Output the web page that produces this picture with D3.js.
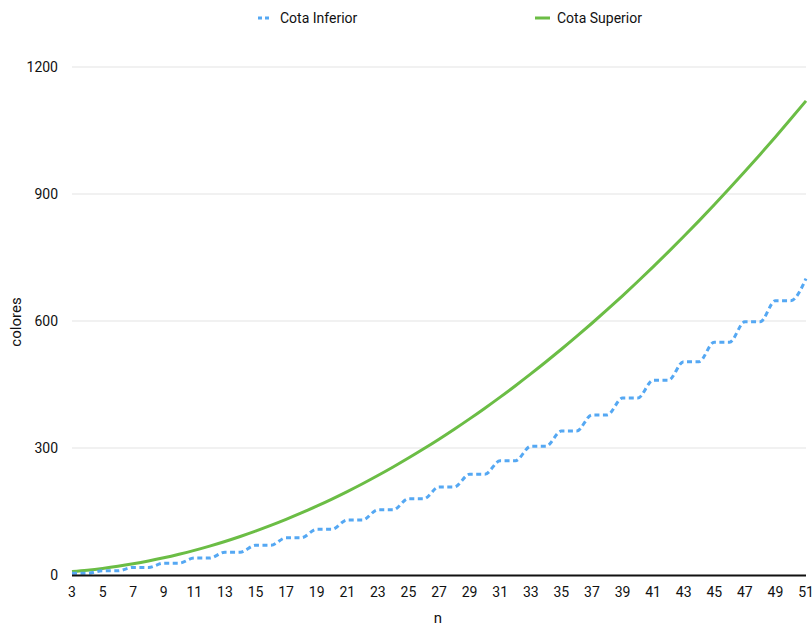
<!DOCTYPE html>
<html><head><meta charset="utf-8">
<script src="https://cdn.jsdelivr.net/npm/d3@7"></script>
<style>body{margin:0;background:#fff}svg{display:block}text{font-family:Roboto,"Liberation Sans",Arial,sans-serif}</style>
</head><body>
<svg id="c" width="812" height="626"></svg>
<script>
const nValues = [3,4,5,6,7,8,9,10,11,12,13,14,15,16,17,18,19,20,21,22,23,24,25,26,27,28,29,30,31,32,33,34,35,36,37,38,39,40,41,42,43,44,45,46,47,48,49,50,51];
const cotaInferior = [4,4,10,10,18,18,28,28,40,40,54,54,70,70,88,88,108,108,130,130,154,154,180,180,208,208,238,238,270,270,304,304,340,340,378,378,418,418,460,460,504,504,550,550,598,598,648,648,700];
const cotaSuperior = [8,11.3,15.5,20.5,26.4,33.1,40.6,49,58.2,68.3,79.2,91,103.6,117.1,131.4,146.5,162.5,179.3,197,215.5,234.9,255.1,276.2,298.1,320.8,344.4,368.8,394.1,420.2,447.2,475,503.7,533.2,563.5,594.7,626.7,659.6,693.3,727.9,763.3,799.5,836.6,874.6,913.4,953,993.5,1034.8,1077,1120];
const yTicks = [0,300,600,900,1200];
const xTicks = [3,5,7,9,11,13,15,17,19,21,23,25,27,29,31,33,35,37,39,41,43,45,47,49,51];
const seriesNames = ["Cota Inferior","Cota Superior"];

const svg = d3.select("#c");
const x = d3.scaleLinear().domain([3,51]).range([72,806]);
const y = d3.scaleLinear().domain([0,1200]).range([575,67]);

// grid
svg.append("g").selectAll("line").data(yTicks.filter(d=>d>0)).join("line")
  .attr("x1",72).attr("x2",806).attr("y1",d=>y(d)).attr("y2",d=>y(d))
  .attr("stroke","#e3e3e3").attr("stroke-width",1);

// y labels
svg.append("g").selectAll("text").data(yTicks).join("text")
  .attr("x",58).attr("y",d=>y(d)+5).attr("text-anchor","end")
  .attr("font-size",14).attr("fill","#111").text(d=>d);

// x labels
svg.append("g").selectAll("text").data(xTicks).join("text")
  .attr("x",d=>x(d)).attr("y",597).attr("text-anchor","middle")
  .attr("font-size",14).attr("fill","#111").text(d=>d);

const line = d3.line().x((d,i)=>x(nValues[i])).y(d=>y(d)).curve(d3.curveMonotoneX);

svg.append("path").datum(cotaSuperior).attr("d",line)
  .attr("fill","none").attr("stroke","#6bbd45").attr("stroke-width",3);
svg.append("path").datum(cotaInferior).attr("d",line)
  .attr("fill","none").attr("stroke","#55a8f3").attr("stroke-width",3)
  .attr("stroke-dasharray","5,3.5");

// x axis line
svg.append("line").attr("x1",72).attr("x2",806).attr("y1",575.5).attr("y2",575.5)
  .attr("stroke","#111").attr("stroke-width",2);

// axis titles
svg.append("text").attr("x",438).attr("y",623).attr("text-anchor","middle")
  .attr("font-size",15).attr("fill","#111").text("n");
svg.append("text").attr("transform","translate(21,322) rotate(-90)").attr("text-anchor","middle")
  .attr("font-size",15).attr("fill","#111").text("colores");

// legend
const lg = svg.append("g");
lg.append("line").attr("x1",258).attr("x2",272).attr("y1",18).attr("y2",18)
  .attr("stroke","#55a8f3").attr("stroke-width",3).attr("stroke-dasharray","4,3");
lg.append("text").attr("x",280).attr("y",23).attr("font-size",14).attr("fill","#111").text(seriesNames[0]);
lg.append("line").attr("x1",535).attr("x2",550).attr("y1",18).attr("y2",18)
  .attr("stroke","#6bbd45").attr("stroke-width",3);
lg.append("text").attr("x",557).attr("y",23).attr("font-size",14).attr("fill","#111").text(seriesNames[1]);
</script>
</body></html>
